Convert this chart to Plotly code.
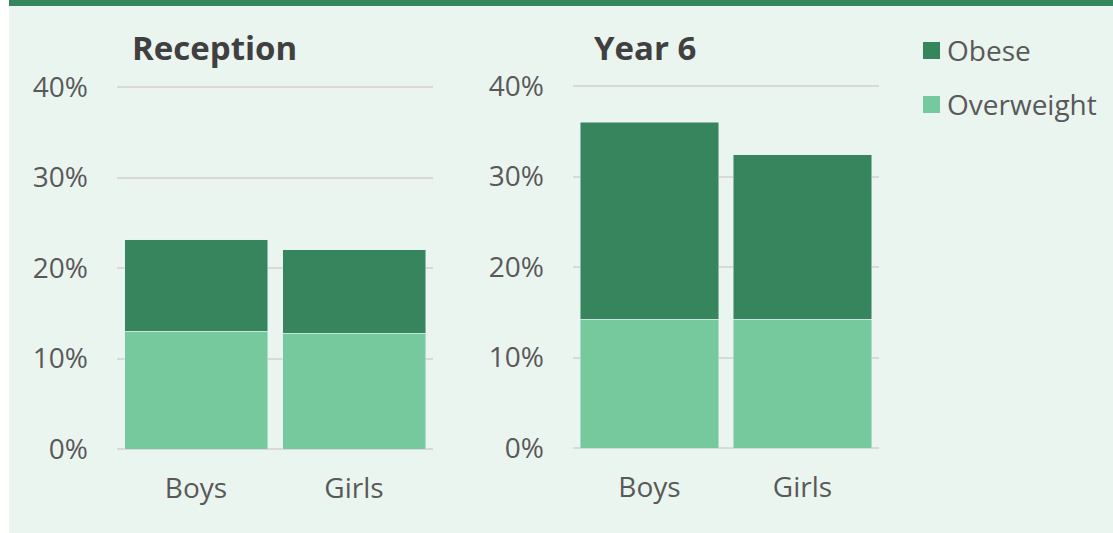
import plotly.graph_objects as go

# Data
groups = ["Boys", "Girls"]
reception_overweight = [13.0, 12.8]
reception_obese = [10.1, 9.2]
year6_overweight = [14.2, 14.2]
year6_obese = [21.8, 18.2]
y_ticks = [0, 10, 20, 30, 40]
y_tick_labels = ["0%", "10%", "20%", "30%", "40%"]
panel_titles = ["Reception", "Year 6"]
series_names = ["Obese", "Overweight"]

C_OBESE = "#36855C"
C_OVER = "#76C99C"
BG = "#EBF5F0"
TXT = "#595959"
FONT = "Open Sans"

W, H = 1113, 533
Y_MAX = 40.4

fig = go.Figure()

fig.add_trace(go.Bar(x=groups, y=reception_overweight, marker_color=C_OVER,
                     name=series_names[1], xaxis="x", yaxis="y", showlegend=False))
fig.add_trace(go.Bar(x=groups, y=reception_obese, marker_color=C_OBESE,
                     name=series_names[0], xaxis="x", yaxis="y", showlegend=False))
fig.add_trace(go.Bar(x=groups, y=year6_overweight, marker_color=C_OVER,
                     name=series_names[1], xaxis="x2", yaxis="y2", showlegend=False))
fig.add_trace(go.Bar(x=groups, y=year6_obese, marker_color=C_OBESE,
                     name=series_names[0], xaxis="x2", yaxis="y2", showlegend=False))

def px_x(p):
    return p / W

def px_y(p):
    return 1 - p / H

def ydom(base, top40):
    per = (base - top40) / 40.0
    return [px_y(base), px_y(base - per * Y_MAX)]

xaxis_common = dict(showgrid=False, showline=False, zeroline=False,
                    tickfont=dict(family=FONT, size=28, color=TXT),
                    ticks="", ticklabelstandoff=20, fixedrange=True, automargin=False)
yaxis_common = dict(range=[0, Y_MAX], tickvals=y_ticks, ticktext=y_tick_labels,
                    showgrid=True, gridcolor="#D9D9D9", gridwidth=2,
                    zeroline=True, zerolinecolor="#D9D9D9", zerolinewidth=2,
                    showline=False, ticks="",
                    tickfont=dict(family=FONT, size=28, color=TXT),
                    ticklabelstandoff=28, fixedrange=True, automargin=False)

fig.update_layout(
    width=W, height=H,
    margin=dict(l=0, r=0, t=0, b=0, pad=0, autoexpand=False),
    paper_bgcolor="white",
    plot_bgcolor="rgba(0,0,0,0)",
    barmode="stack",
    bargap=0.095,
    showlegend=False,
    xaxis=dict(domain=[px_x(117), px_x(433)], anchor="y", **xaxis_common),
    yaxis=dict(domain=ydom(449, 87), anchor="x", **yaxis_common),
    xaxis2=dict(domain=[px_x(573), px_x(879)], anchor="y2", **xaxis_common),
    yaxis2=dict(domain=ydom(448, 86), anchor="x2", **yaxis_common),
    shapes=[
        dict(type="rect", xref="paper", yref="paper", x0=px_x(9), x1=1,
             y0=0, y1=1, fillcolor=BG, line_width=0, layer="below"),
        dict(type="rect", xref="paper", yref="paper", x0=px_x(9), x1=1,
             y0=px_y(6), y1=1, fillcolor=C_OBESE, line_width=0, layer="below"),
        dict(type="rect", xref="paper", yref="paper", x0=px_x(923), x1=px_x(940),
             y0=px_y(59), y1=px_y(42), fillcolor=C_OBESE, line_width=0),
        dict(type="rect", xref="paper", yref="paper", x0=px_x(923), x1=px_x(940),
             y0=px_y(113), y1=px_y(96), fillcolor=C_OVER, line_width=0),
    ],
    annotations=[
        dict(text="<b>" + panel_titles[0] + "</b>", xref="paper", yref="paper",
             x=px_x(130), y=px_y(47), xanchor="left", yanchor="middle",
             showarrow=False, font=dict(family=FONT, size=33, color="#404040")),
        dict(text="<b>" + panel_titles[1] + "</b>", xref="paper", yref="paper",
             x=px_x(592), y=px_y(47), xanchor="left", yanchor="middle",
             showarrow=False, font=dict(family=FONT, size=33, color="#404040")),
        dict(text=series_names[0], xref="paper", yref="paper",
             x=px_x(945), y=px_y(50), xanchor="left", yanchor="middle",
             showarrow=False, font=dict(family=FONT, size=28, color=TXT)),
        dict(text=series_names[1], xref="paper", yref="paper",
             x=px_x(945), y=px_y(104), xanchor="left", yanchor="middle",
             showarrow=False, font=dict(family=FONT, size=28, color=TXT)),
    ],
)

fig.write_html("out.html")
